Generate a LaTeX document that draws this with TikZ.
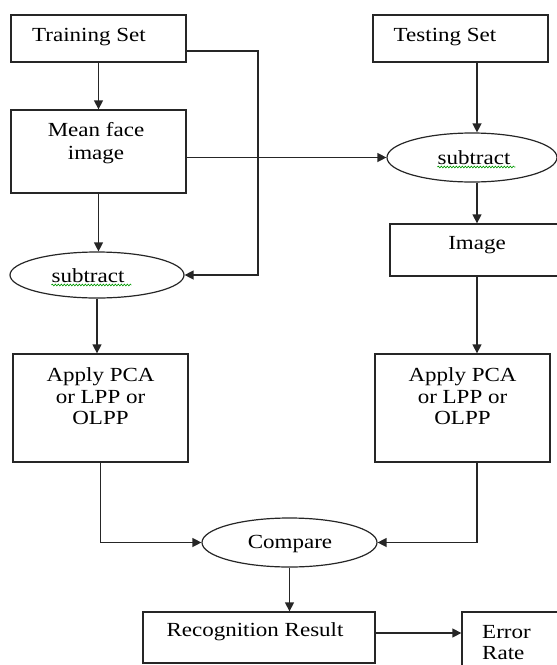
\documentclass[tikz,border=0pt]{standalone}
\usepackage{fontspec}
\setmainfont{Liberation Serif}[FakeStretch=1.15]
\usetikzlibrary{shapes.geometric,arrows.meta,decorations.pathmorphing}
\begin{document}
\begin{tikzpicture}[x=1pt,y=-1pt,
  box/.style={draw=black!85,line width=1.3pt,rectangle,inner sep=0pt},
  oval/.style={draw=black!85,line width=1.2pt,ellipse,inner sep=0pt},
  txt/.style={font=\fontsize{20}{21.5}\selectfont,inner sep=0pt,anchor=base},
  conn/.style={draw=black!85,line width=1.3pt,-{Triangle[length=9pt,width=9pt]}},
  spell/.style={draw=green!60!black,line width=0.6pt,decorate,decoration={snake,segment length=3pt,amplitude=0.9pt}}]
\useasboundingbox (0,0) rectangle (557,665);
\clip (0,0) rectangle (557,665);
% boxes and ovals
\node[box,minimum width=175pt,minimum height=47pt] (train) at (98.5,38.5) {};
\node[box,minimum width=175pt,minimum height=47pt] (test) at (460.5,38.5) {};
\node[box,minimum width=175pt,minimum height=83pt] (mean) at (98.5,151.5) {};
\node[oval,minimum width=174pt,minimum height=46pt] (subL) at (97,275) {};
\node[oval,minimum width=170pt,minimum height=49pt] (subR) at (472,157.5) {};
\node[box,minimum width=174pt,minimum height=52pt] (image) at (477,250) {};
\node[box,minimum width=175pt,minimum height=108pt] (applyL) at (100.5,408) {};
\node[box,minimum width=175pt,minimum height=108pt] (applyR) at (462.5,408) {};
\node[oval,minimum width=175pt,minimum height=49pt] (compare) at (289.5,542.5) {};
\node[box,minimum width=232pt,minimum height=51pt] (recog) at (259,637.5) {};
\node[box,minimum width=100pt,minimum height=60pt] (error) at (512,642) {};
% texts
\node[txt] (t1) at (89,41) {Training Set};
\node[txt] (t2) at (445,41) {Testing Set};
\node[txt] (t3a) at (96,136) {Mean face};
\node[txt] (t3b) at (96,159) {image};
\node[txt] (t4) at (88,282) {subtract};
\node[txt] (t5) at (474,164) {subtract};
\node[txt] (t6) at (477,249) {Image};
\node[txt] (t7a) at (100.5,381) {Apply PCA};
\node[txt] (t7b) at (100.5,403) {or LPP or};
\node[txt] (t7c) at (100.5,424) {OLPP};
\node[txt] (t8a) at (462.5,381) {Apply PCA};
\node[txt] (t8b) at (462.5,403) {or LPP or};
\node[txt] (t8c) at (462.5,424) {OLPP};
\node[txt] (t9) at (290,548) {Compare};
\node[txt] (t10) at (255,636) {Recognition Result};
\node[txt,anchor=base west] (t11a) at (482,638) {Error};
\node[txt,anchor=base west] (t11b) at (482,659) {Rate};
% spell-check underlines
\draw[spell] (t4.base west) ++(0,3) -- ++(80,0);
\draw[spell] (t5.base west) ++(0,3) -- ++(78,0);
% connectors
\coordinate (jr) at (258,51);
\coordinate (rx) at (477,0);
\coordinate (ey) at (0,633);
\draw[conn] (train.south) -- (mean.north);
\draw[conn] (train.east |- jr) -- (jr) |- (subL.east);
\draw[conn] (mean.south) -- (mean.south |- subL.north);
\draw[conn] (mean.east |- subR.west) -- (subR.west);
\draw[conn] (subL.south) -- (subL.south |- applyL.north);
\draw[conn] (test.south -| rx) -- (subR.north -| rx);
\draw[conn] (subR.south -| rx) -- (image.north -| rx);
\draw[conn] (image.south -| rx) -- (applyR.north -| rx);
\draw[conn] (applyL.south) |- (compare.west);
\draw[conn] (applyR.south -| rx) |- (compare.east);
\draw[conn] (compare.south) -- (compare.south |- recog.north);
\draw[conn] (recog.east |- ey) -- (error.west |- ey);
\end{tikzpicture}
\end{document}
